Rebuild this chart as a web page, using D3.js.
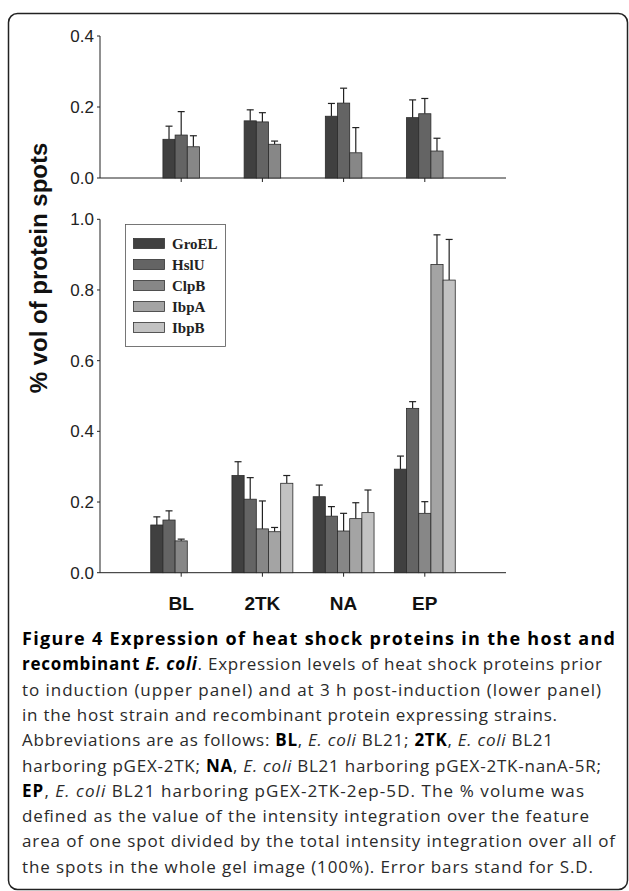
<!DOCTYPE html>
<html><head><meta charset="utf-8">
<script src="https://cdn.jsdelivr.net/npm/d3@7"></script>
<style>body{margin:0;background:#fff}svg{display:block}</style>
</head><body>
<svg id="c" width="629" height="891"></svg>
<script>
const categories = ["BL","2TK","NA","EP"];
const seriesNames = ["GroEL","HslU","ClpB","IbpA","IbpB"];
const seriesColors = ["#404040","#646464","#878787","#a4a4a4","#c2c2c2"];
// Upper panel (prior to induction): GroEL, HslU, ClpB
const upperValues = [
  [0.109,0.161,0.174,0.170],
  [0.121,0.158,0.211,0.181],
  [0.088,0.095,0.071,0.076]
];
const upperErrors = [
  [0.037,0.031,0.036,0.050],
  [0.066,0.026,0.042,0.043],
  [0.031,0.009,0.071,0.036]
];
// Lower panel (3 h post-induction); null = not shown
const lowerValues = [
  [0.135,0.275,0.215,0.293],
  [0.149,0.208,0.160,0.465],
  [0.090,0.124,0.118,0.168],
  [null, 0.116,0.153,0.872],
  [null, 0.253,0.170,0.828]
];
const lowerErrors = [
  [0.023,0.039,0.033,0.037],
  [0.026,0.061,0.027,0.019],
  [0.005,0.079,0.050,0.033],
  [null, 0.012,0.045,0.084],
  [null, 0.022,0.064,0.115]
];
const upperTicks = [0.0,0.2,0.4];
const lowerTicks = [0.0,0.2,0.4,0.6,0.8,1.0];
const yTitle = "% vol of protein spots";

const svg = d3.select("#c");
// frame
svg.append("rect").attr("x",8.5).attr("y",13.5).attr("width",619).attr("height",876)
  .attr("rx",9).attr("fill","none").attr("stroke","#222").attr("stroke-width",1.5);

const x = d3.scaleLinear().domain([0,5]).range([100,506]);
const bw = 0.15;
const yU = d3.scaleLinear().domain([0,0.4]).range([178,36]);
const yL = d3.scaleLinear().domain([0,1]).range([572.7,219.3]);

function drawAxes(y, ticks){
  const g = svg.append("g");
  g.append("line").attr("x1",x(0)).attr("x2",x(5)).attr("y1",y(0)).attr("y2",y(0)).attr("stroke","#222").attr("stroke-width",1);
  g.append("line").attr("x1",x(0)).attr("x2",x(0)).attr("y1",y(0)).attr("y2",y(d3.max(ticks))).attr("stroke","#222").attr("stroke-width",1);
  ticks.forEach(t=>{
    g.append("line").attr("x1",x(0)-3).attr("x2",x(0)).attr("y1",y(t)).attr("y2",y(t)).attr("stroke","#222");
    g.append("text").attr("x",x(0)-6).attr("y",y(t)).attr("dy","0.36em").attr("text-anchor","end")
      .attr("font-family","Liberation Sans, Arial, sans-serif").attr("font-size",17).attr("fill","#222")
      .text(d3.format(".1f")(t));
  });
  categories.forEach((c,i)=>{
    g.append("line").attr("x1",x(i+1)).attr("x2",x(i+1)).attr("y1",y(0)).attr("y2",y(0)+4).attr("stroke","#222");
  });
}

function drawBars(y, values, errors, n){
  values.forEach((row,s)=>{
    row.forEach((v,i)=>{
      if(v===null) return;
      const left = (i+1) + (s - n/2)*bw;
      const x0 = x(left), x1 = x(left+bw), xc = (x0+x1)/2;
      const top = y(v+errors[s][i]);
      svg.append("line").attr("x1",xc).attr("x2",xc).attr("y1",y(v)).attr("y2",top).attr("stroke","#222").attr("stroke-width",1.2);
      svg.append("line").attr("x1",xc-3.5).attr("x2",xc+3.5).attr("y1",top).attr("y2",top).attr("stroke","#222").attr("stroke-width",1.2);
      svg.append("rect").attr("x",x0).attr("y",y(v)).attr("width",x1-x0).attr("height",y(0)-y(v))
        .attr("fill",seriesColors[s]).attr("stroke","#2a2a2a").attr("stroke-width",0.8);
    });
  });
}

drawAxes(yU, upperTicks);
drawAxes(yL, lowerTicks);
drawBars(yU, upperValues, upperErrors, 3);
drawBars(yL, lowerValues, lowerErrors, 5);

// x category labels
categories.forEach((c,i)=>{
  svg.append("text").attr("x",x(i+1)).attr("y",610).attr("text-anchor","middle")
    .attr("font-family","Liberation Sans, Arial, sans-serif").attr("font-weight","bold").attr("font-size",19).attr("fill","#111").text(c);
});

// y title
svg.append("text").attr("transform","translate(47,268) rotate(-90)").attr("text-anchor","middle")
  .attr("font-family","Liberation Sans, Arial, sans-serif").attr("font-weight","bold").attr("font-size",24).attr("fill","#111").text(yTitle);

// legend
const lg = svg.append("g");
lg.append("rect").attr("x",125.5).attr("y",224.5).attr("width",100).attr("height",122).attr("fill","#fff").attr("stroke","#555").attr("stroke-width",0.8);
seriesNames.forEach((s,i)=>{
  const cy = 243.5 + i*21;
  lg.append("rect").attr("x",133.5).attr("y",cy-5).attr("width",31).attr("height",10).attr("fill",seriesColors[i]).attr("stroke","#333").attr("stroke-width",0.8);
  lg.append("text").attr("x",172).attr("y",cy).attr("dy","0.35em").attr("font-family","Liberation Serif, Times New Roman, serif")
    .attr("font-weight","bold").attr("font-size",15).attr("fill","#222").text(s);
});

// caption
const cap = [
  [["b","Figure 4 Expression of heat shock proteins in the host and"]],
  [["b","recombinant "],["bi","E. coli"],["n",". Expression levels of heat shock proteins prior"]],
  [["n","to induction (upper panel) and at 3 h post-induction (lower panel)"]],
  [["n","in the host strain and recombinant protein expressing strains."]],
  [["n","Abbreviations are as follows: "],["b","BL"],["n",", "],["i","E. coli"],["n"," BL21; "],["b","2TK"],["n",", "],["i","E. coli"],["n"," BL21"]],
  [["n","harboring pGEX-2TK; "],["b","NA"],["n",", "],["i","E. coli"],["n"," BL21 harboring pGEX-2TK-nanA-5R;"]],
  [["b","EP"],["n",", "],["i","E. coli"],["n"," BL21 harboring pGEX-2TK-2ep-5D. The % volume was"]],
  [["n","defined as the value of the intensity integration over the feature"]],
  [["n","area of one spot divided by the total intensity integration over all of"]],
  [["n","the spots in the whole gel image (100%). Error bars stand for S.D."]]
];
const capWidths = [593,580,579,535,531,579,562,567,593,571];
cap.forEach((line,li)=>{
  const t = svg.append("text").attr("x",22).attr("y",645 + li*25.3)
    .attr("font-family","Open Sans, sans-serif").attr("font-size", li===0?18:17).attr("fill","#2a2a2a")
    .attr("textLength",capWidths[li]).attr("lengthAdjust","spacing");
  line.forEach(([st,tx])=>{
    const ts = t.append("tspan").text(tx);
    if(st==="b"||st==="bi") ts.attr("font-weight","bold").attr("fill","#000");
    if(st==="i"||st==="bi") ts.attr("font-style","italic");
  });
});
</script>
</body></html>
